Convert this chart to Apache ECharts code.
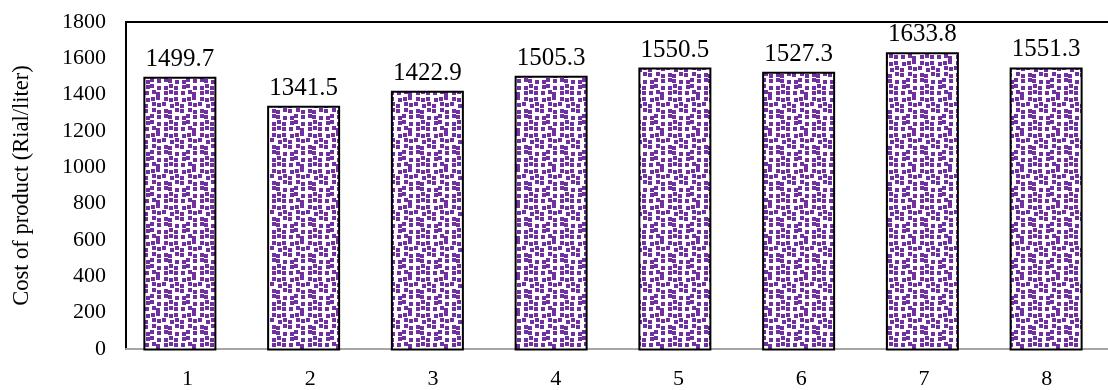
<!DOCTYPE html>
<html>
<head>
<meta charset="utf-8">
<script src="https://cdn.jsdelivr.net/npm/echarts@6/dist/echarts.min.js"></script>
<style>html,body{margin:0;padding:0;background:#fff}#c{width:1108px;height:390px}</style>
</head>
<body>
<div id="c"></div>
<script>
const categories = ['1','2','3','4','5','6','7','8'];
const costValues = [1499.7, 1341.5, 1422.9, 1505.3, 1550.5, 1527.3, 1633.8, 1551.3];
const yTicks = {min: 0, max: 1800, interval: 200};
const yAxisName = 'Cost of product (Rial/liter)';

// pattern of small purple squares (style only)
function makePattern() {
  const n = 6, pitch = 6, size = n * pitch;
  const c = document.createElement('canvas');
  c.width = size; c.height = size;
  const g = c.getContext('2d');
  g.fillStyle = '#fff'; g.fillRect(0, 0, size, size);
  g.fillStyle = '#7030a0';
  const offs = [[0,1],[2,0],[1,2],[2,1],[0,2],[1,0],[2,2],[0,0],[1,1],[2,0],[0,1],[1,2],
                [2,1],[0,0],[1,2],[2,2],[1,0],[0,2],[1,1],[2,0],[0,2],[2,1],[1,0],[0,1],
                [2,2],[1,1],[0,0],[2,1],[1,2],[0,1],[0,2],[2,0],[1,1],[0,0],[2,2],[1,0]];
  let k = 0;
  for (let r = 0; r < n; r++) {
    for (let q = 0; q < n; q++) {
      const o = offs[k++ % offs.length];
      g.fillRect(q * pitch + o[0], r * pitch + o[1], 4, 4);
    }
  }
  return c;
}

const font = "'Liberation Serif','Times New Roman',serif";
const chart = echarts.init(document.getElementById('c'));
chart.setOption({
  animation: false,
  grid: [
    {left: 126, right: -11, top: 22, bottom: 39.5},
    {left: 118, right: -3, top: 22, bottom: 39.5}
  ],
  xAxis: [
    {type: 'category', gridIndex: 0, data: categories,
     axisLine: {lineStyle: {color: '#a6a6a6', width: 2}},
     axisTick: {length: 6, lineStyle: {color: '#bfbfbf', width: 1}},
     axisLabel: {color: '#000', fontFamily: font, fontSize: 22, margin: 19}},
    {type: 'category', gridIndex: 0, position: 'top', data: categories,
     axisLine: {lineStyle: {color: '#000', width: 2}},
     axisTick: {show: false}, axisLabel: {show: false}},
    {type: 'category', gridIndex: 1, data: categories, show: false}
  ],
  yAxis: [
    {type: 'value', gridIndex: 0, min: yTicks.min, max: yTicks.max, interval: yTicks.interval,
     name: yAxisName, nameLocation: 'middle', nameGap: 92, nameRotate: 90,
     nameTextStyle: {color: '#000', fontFamily: font, fontSize: 22.5},
     axisLine: {show: true, lineStyle: {color: '#000', width: 2}},
     axisTick: {show: false}, splitLine: {show: false},
     axisLabel: {color: '#000', fontFamily: font, fontSize: 22, margin: 20,
                 formatter: v => String(v)}},
    {type: 'value', gridIndex: 1, min: yTicks.min, max: yTicks.max, interval: yTicks.interval, show: false, splitLine: {show: false}}
  ],
  series: [{
    type: 'bar', xAxisIndex: 2, yAxisIndex: 1, data: costValues, barWidth: 73,
    itemStyle: {color: {image: makePattern(), repeat: 'repeat'}, borderColor: '#000', borderWidth: 2},
    label: {show: true, position: 'top', distance: 5, color: '#000', fontFamily: font, fontSize: 25,
            formatter: p => p.value.toFixed(1)}
  }]
});
</script>
</body>
</html>
